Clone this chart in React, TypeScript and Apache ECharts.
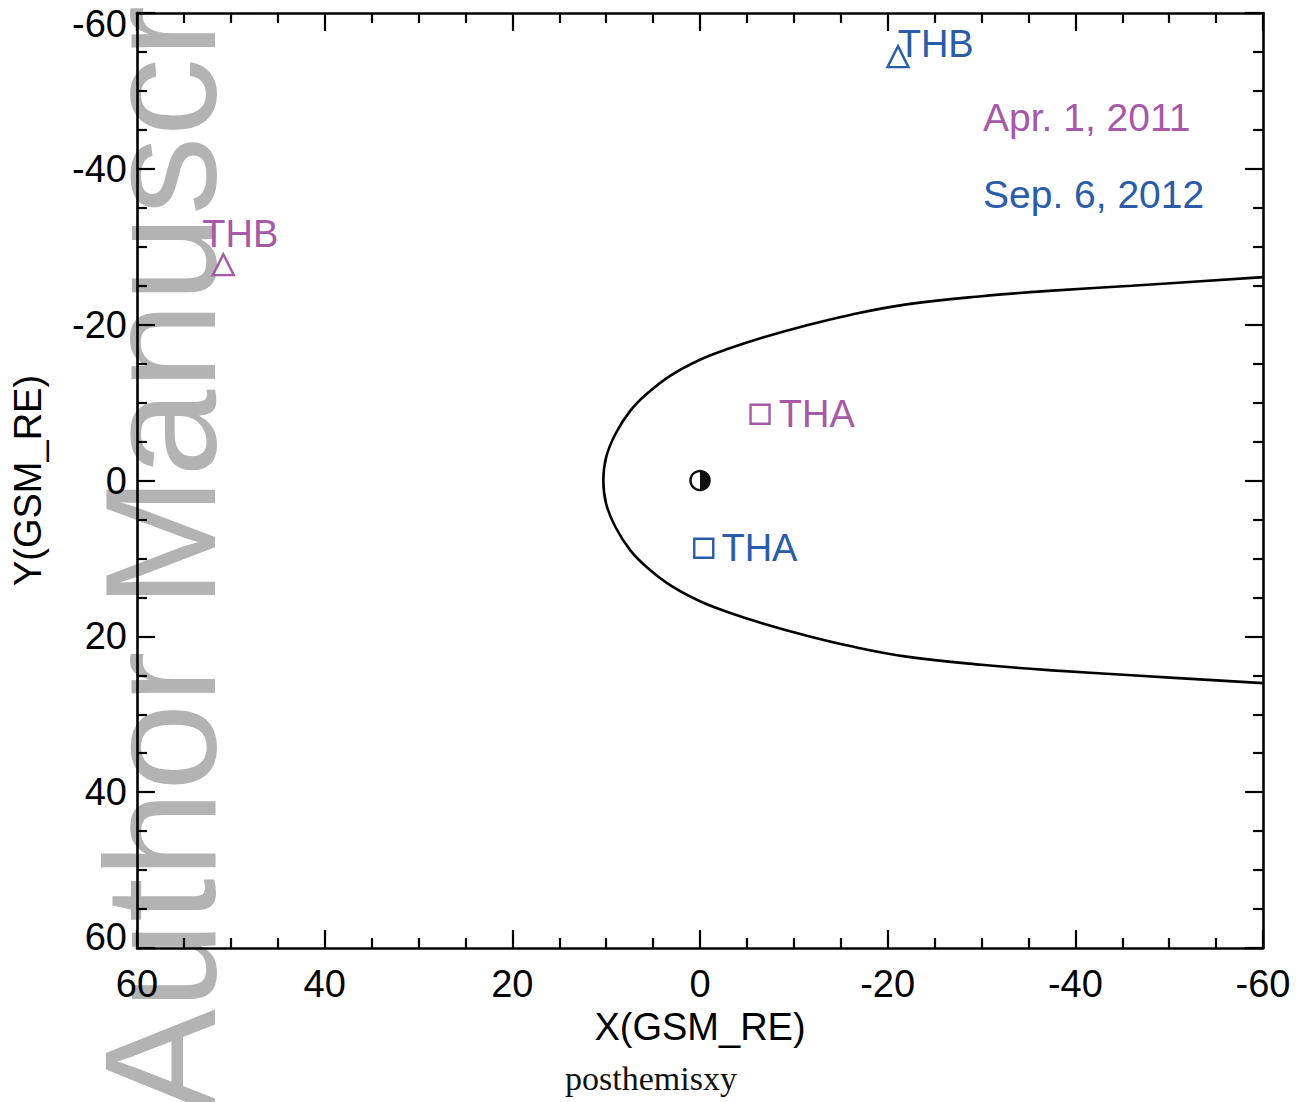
import React, { useEffect, useRef } from "react";
import * as echarts from "echarts";

// Magnetopause boundary (X, Y in GSM RE), traced from the tail (upper branch) round the nose to the tail (lower branch)
const mpX = [-60, -46, -38, -30, -22, -16, -11, -6.7, -3, 0, 3.1, 5.6, 7.4, 9.0, 10.0, 10.3, 10.0, 9.0, 7.4, 5.6, 3.1, 0, -3, -6.7, -11, -16, -22, -30, -38, -46, -60];
const mpY = [-26.1, -25.0, -24.4, -23.65, -22.6, -21.25, -19.8, -18.35, -16.9, -15.5, -13.5, -11.2, -9.0, -6.0, -3.0, 0, 3.0, 6.0, 9.0, 11.2, 13.5, 15.5, 16.9, 18.35, 19.8, 21.25, 22.6, 23.65, 24.4, 25.0, 26.0];

// Spacecraft positions
const aprLabels = ["THB", "THA"];
const aprX = [50.8, -6.4];
const aprY = [-27.7, -8.5];
const sepLabels = ["THB", "THA"];
const sepX = [-21.1, -0.4];
const sepY = [-54.4, 8.7];
const symbols = ["triangle", "rect"];

const earthX = [0];
const earthY = [0];

const dateLabels = ["Apr. 1, 2011", "Sep. 6, 2012"];
const PINK = "#a659a8";
const BLUE = "#2a5caa";

const FONT = "'Liberation Sans', Arial, Helvetica, sans-serif";

export default function App() {
  const ref = useRef<HTMLDivElement>(null);
  useEffect(() => {
    if (!ref.current) return;
    const chart = echarts.init(ref.current, null, { renderer: "svg" });

    const axisCommon = {
      type: "value",
      min: -60,
      max: 60,
      interval: 20,
      inverse: true,
      splitLine: { show: false },
      axisLine: { show: true, onZero: false, lineStyle: { color: "#000", width: 2.6 } },
      axisTick: { show: true, inside: true, length: 18, lineStyle: { color: "#000", width: 2.2 } },
      minorTick: { show: true, splitNumber: 4, length: 10, lineStyle: { color: "#000", width: 2.2 } },
      minorSplitLine: { show: false },
    };

    const mkPts = (xs: number[], ys: number[]) => xs.map((x, i) => [x, ys[i]]);

    const scatterSeries = (
      name: string,
      xs: number[],
      ys: number[],
      labels: string[],
      color: string,
      offsets: number[][],
      positions: string[]
    ) =>
      xs.map((x, i) => ({
        name: name + labels[i],
        type: "scatter",
        xAxisIndex: 0,
        yAxisIndex: 0,
        symbol: symbols[i],
        symbolSize: i === 0 ? 21 : 19,
        data: [[x, ys[i]]],
        itemStyle: { color: "#fff", borderColor: color, borderWidth: 2.4, opacity: 1 },
        label: {
          show: true,
          formatter: labels[i],
          position: positions[i],
          offset: offsets[i],
          color,
          fontSize: 38,
          fontFamily: FONT,
        },
        z: 5,
      }));

    const tickRich = {
      fontSize: 38,
      fontFamily: FONT,
      color: "#000",
    };

    const option = {
      animation: false,
      backgroundColor: "#fff",
      grid: { left: 137, top: 13, width: 1126, height: 935, containLabel: false },
      xAxis: [
        {
          ...axisCommon,
          position: "bottom",
          name: "X(GSM_RE)",
          nameLocation: "middle",
          nameGap: 56,
          nameTextStyle: { color: "#000", fontSize: 38, fontFamily: FONT },
          axisLabel: { color: "#000", fontSize: 38, fontFamily: FONT, margin: 17 },
        },
        {
          ...axisCommon,
          position: "top",
          axisLabel: { show: false },
        },
      ],
      yAxis: [
        {
          ...axisCommon,
          position: "left",
          name: "Y(GSM_RE)",
          nameLocation: "middle",
          nameGap: 90,
          nameTextStyle: { color: "#000", fontSize: 38, fontFamily: FONT },
          axisLabel: {
            color: "#000",
            fontSize: 38,
            fontFamily: FONT,
            margin: 10,
            formatter: (v: number) => {
              if (v === -60) return "{lo|" + v + "}";
              if (v === 60) return "{hi|" + v + "}";
              return "{n|" + v + "}";
            },
            rich: {
              n: { ...tickRich },
              lo: { ...tickRich, padding: [22, 0, 0, 0] },
              hi: { ...tickRich, padding: [0, 0, 22, 0] },
            },
          },
        },
        {
          ...axisCommon,
          position: "right",
          axisLabel: { show: false },
        },
      ],
      graphic: [
        {
          type: "text",
          z: -100,
          x: 160,
          y: 1114,
          rotation: Math.PI / 2,
          silent: true,
          style: {
            text: "Author Manuscript",
            fontSize: 157,
            fontFamily: FONT,
            fill: "#b3b3b3",
            textAlign: "left",
            textVerticalAlign: "middle",
            align: "left",
            verticalAlign: "middle",
          },
        },
        {
          type: "text",
          x: 983,
          y: 117,
          z: 10,
          style: {
            text: dateLabels[0],
            fontSize: 39,
            fontFamily: FONT,
            fill: PINK,
            textAlign: "left",
            textVerticalAlign: "middle",
            align: "left",
            verticalAlign: "middle",
          },
        },
        {
          type: "text",
          x: 983,
          y: 194,
          z: 10,
          style: {
            text: dateLabels[1],
            fontSize: 39,
            fontFamily: FONT,
            fill: BLUE,
            textAlign: "left",
            textVerticalAlign: "middle",
            align: "left",
            verticalAlign: "middle",
          },
        },
        {
          type: "text",
          x: 651,
          y: 1078,
          z: 10,
          style: {
            text: "posthemisxy",
            fontSize: 34,
            fontFamily: "'Liberation Serif', 'DejaVu Serif', serif",
            fill: "#111",
            textAlign: "center",
            textVerticalAlign: "middle",
            align: "center",
            verticalAlign: "middle",
          },
        },
      ],
      series: [
        {
          name: "Magnetopause",
          type: "line",
          xAxisIndex: 0,
          yAxisIndex: 0,
          data: mkPts(mpX, mpY),
          showSymbol: false,
          smooth: 0.4,
          lineStyle: { color: "#000", width: 2.6 },
          z: 3,
        },
        {
          name: "Earth",
          type: "custom",
          xAxisIndex: 0,
          yAxisIndex: 0,
          data: mkPts(earthX, earthY),
          renderItem: (params: any, api: any) => {
            const p = api.coord([api.value(0), api.value(1)]);
            const r = 9.5;
            return {
              type: "group",
              children: [
                {
                  type: "circle",
                  shape: { cx: p[0], cy: p[1], r },
                  style: { fill: "#fff", stroke: "#111", lineWidth: 2.5 },
                },
                {
                  type: "sector",
                  shape: { cx: p[0], cy: p[1], r0: 0, r, startAngle: -Math.PI / 2, endAngle: Math.PI / 2, clockwise: true },
                  style: { fill: "#111" },
                },
              ],
            };
          },
          z: 4,
        },
        ...scatterSeries("Apr ", aprX, aprY, aprLabels, PINK, [[17, 5], [3, 0]], ["top", "right"]),
        ...scatterSeries("Sep ", sepX, sepY, sepLabels, BLUE, [[-17, -13], [2, 0]], ["right", "right"]),
      ],
    };

    chart.setOption(option as any);
    return () => chart.dispose();
  }, []);

  return (
    <div
      ref={ref}
      style={{ position: "fixed", left: 0, top: 0, width: 1302, height: 1102, background: "#fff" }}
    />
  );
}
